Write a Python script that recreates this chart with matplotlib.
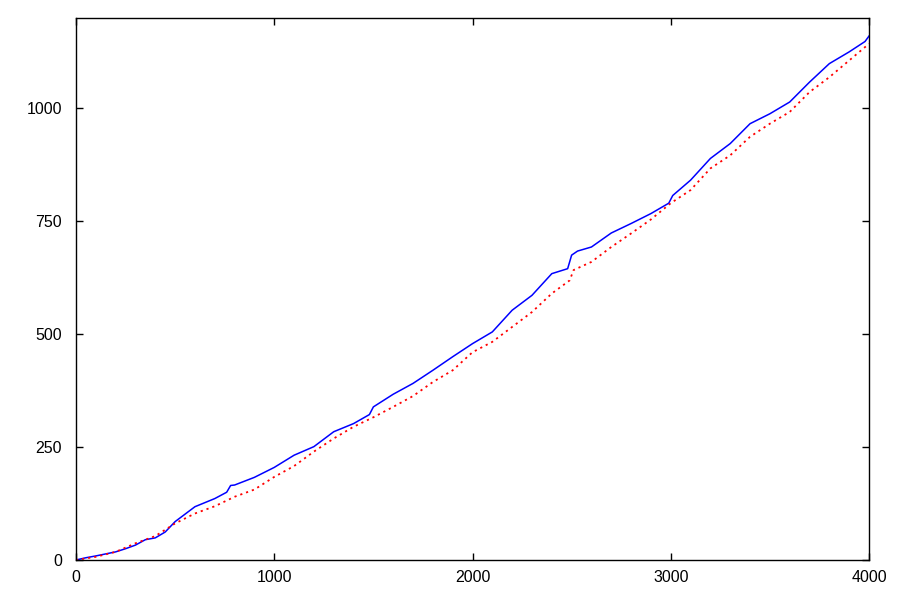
import numpy as np
import matplotlib.pyplot as plt

plt.rcParams['font.family'] = ['Liberation Sans', 'DejaVu Sans']

# blue (solid) series
blue_x = [0, 50, 100, 200, 250, 300, 350, 400, 450, 500, 600, 700, 760, 780, 800,
          900, 1000, 1100, 1200, 1300, 1400, 1480, 1500, 1600, 1700, 1800, 1900, 2000,
          2100, 2200, 2300, 2400, 2480, 2500, 2530, 2600, 2700, 2800, 2900, 2990, 3010,
          3100, 3200, 3300, 3400, 3500, 3600, 3700, 3800, 3900, 3980, 4000]
blue_y = [0, 5, 9, 18, 25, 33, 45, 49, 62, 85, 118, 136, 150, 165, 166,
          183, 205, 232, 251, 284, 302, 322, 339, 367, 391, 420, 450, 479,
          505, 553, 586, 634, 645, 675, 684, 693, 724, 745, 767, 790, 807,
          841, 889, 922, 966, 988, 1014, 1058, 1099, 1125, 1148, 1160]

# red (dotted) series
red_x = [0, 100, 200, 300, 400, 500, 600, 700, 800, 900, 1000, 1100, 1200, 1300,
         1400, 1500, 1600, 1700, 1800, 1900, 2000, 2100, 2200, 2300, 2400, 2490,
         2510, 2600, 2700, 2800, 2900, 3000, 3100, 3200, 3300, 3400, 3500, 3600,
         3700, 3800, 3900, 4000]
red_y = [0, 7, 18, 37, 53, 81, 103, 119, 140, 156, 184, 208, 240, 269,
         295, 316, 339, 363, 394, 420, 460, 483, 516, 549, 590, 619,
         642, 660, 693, 723, 754, 790, 819, 867, 896, 937, 966, 992,
         1036, 1069, 1106, 1143]

x_ticks = [0, 1000, 2000, 3000, 4000]
y_ticks = [0, 250, 500, 750, 1000]

fig = plt.figure(figsize=(9, 6), dpi=100)
ax = fig.add_axes([76/900, 40/600, 793/900, 542/600])

ax.plot(blue_x, blue_y, color='#0000ff', lw=1.1)
ax.plot(red_x, red_y, color='#ff0000', lw=1.3, linestyle=(0, (1.2, 2.2)))

ax.set_xlim(0, 4000)
ax.set_ylim(0, 1200)
ax.set_xticks(x_ticks)
ax.set_yticks(y_ticks)
ax.tick_params(direction='in', length=5, width=1, top=True, right=True,
               labelsize=11.5)
ax.tick_params(axis='y', pad=10)
ax.tick_params(axis='x', pad=7)
for s in ax.spines.values():
    s.set_linewidth(1)

fig.savefig('out.png', dpi=100)
